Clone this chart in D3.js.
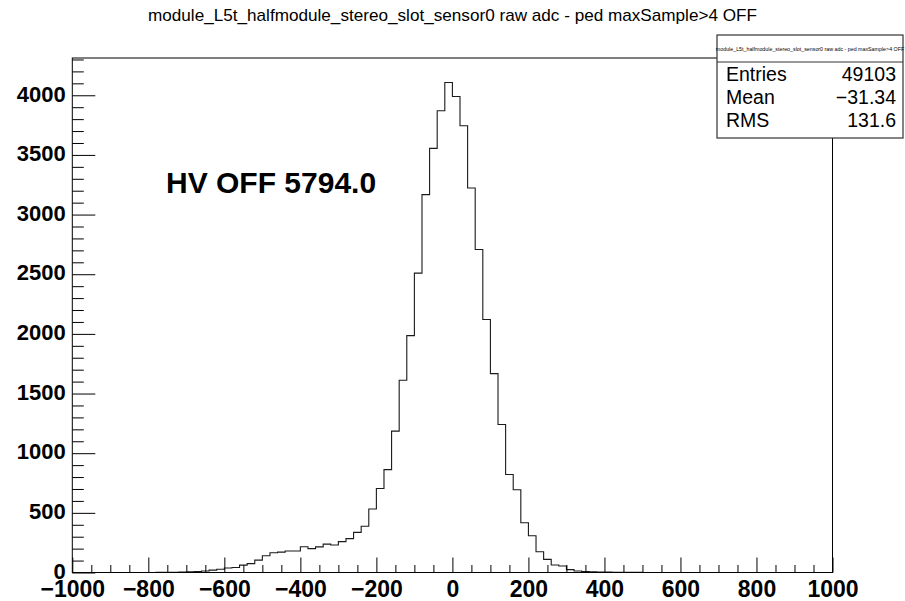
<!DOCTYPE html>
<html>
<head>
<meta charset="utf-8">
<script src="https://cdn.jsdelivr.net/npm/d3@7"></script>
<style>
  html, body { margin: 0; padding: 0; background: #fff; }
  svg { display: block; }
  text { font-family: "Liberation Sans", Arial, Helvetica, sans-serif; fill: #000; }
</style>
</head>
<body>
<svg id="chart" width="905" height="601"></svg>
<script>
// ---- data ----
const titleText = "module_L5t_halfmodule_stereo_slot_sensor0 raw adc - ped maxSample>4 OFF";
const annotation = "HV OFF 5794.0";
const binStart = -1000;
const binWidth = 20;
const counts = [
  0, 0, 0, 0, 0, 0, 0, 0, 0, 0,
  0, 1, 1, 2, 3, 5, 8, 13, 20, 27,
  38, 42, 62, 74, 104, 140, 165, 171, 180, 180,
  216, 200, 215, 238, 230, 259, 284, 336, 388, 532,
  704, 862, 1185, 1611, 1985, 2509, 3167, 3555, 3870, 4107,
  3990, 3745, 3223, 2707, 2121, 1667, 1240, 822, 693, 417,
  308, 174, 110, 63, 54, 24, 12, 9, 6, 4,
  3, 2, 1, 1, 1, 0, 0, 0, 0, 0,
  0, 0, 0, 0, 0, 0, 0, 0, 0, 0,
  0, 0, 0, 0, 0, 0, 0, 0, 0, 0
];
const xMajorTicks = [-1000, -800, -600, -400, -200, 0, 200, 400, 600, 800, 1000];
const xMinorTicks = [-950,-900,-850,-750,-700,-650,-550,-500,-450,-350,-300,-250,-150,-100,-50,50,100,150,250,300,350,450,500,550,650,700,750,850,900,950];
const yMajorTicks = [0, 500, 1000, 1500, 2000, 2500, 3000, 3500, 4000];
const yMinorTicks = [100,200,300,400,600,700,800,900,1100,1200,1300,1400,1600,1700,1800,1900,2100,2200,2300,2400,2600,2700,2800,2900,3100,3200,3300,3400,3600,3700,3800,3900,4100,4200,4300];
const statLabels = ["Entries", "Mean", "RMS"];
const statValues = ["49103", "\u221231.34", "131.6"];

// ---- layout ----
const svg = d3.select("#chart");
const L = 72.3, R = 832.5, T = 58, B = 572.5;
const xMax = binStart + binWidth * counts.length;
const x = d3.scaleLinear().domain([binStart, xMax]).range([L, R]);
const y = d3.scaleLinear().domain([0, d3.max(counts) * 1.05]).range([B, T]);

// title
svg.append("text")
  .attr("x", 452.5).attr("y", 21)
  .attr("text-anchor", "middle")
  .attr("font-size", 17)
  .attr("textLength", 609).attr("lengthAdjust", "spacingAndGlyphs")
  .text(titleText);

// histogram
const pts = [[x(binStart), y(0)]];
counts.forEach((c, i) => {
  const lo = binStart + i * binWidth, hi = lo + binWidth;
  pts.push([x(lo), y(c)], [x(hi), y(c)]);
});
pts.push([x(xMax), y(0)]);
svg.append("path")
  .attr("d", d3.line()(pts))
  .attr("fill", "none")
  .attr("stroke", "#1a1a1a")
  .attr("stroke-width", 1.1);

// axes
const fontAxis = 23;
const gx = svg.append("g").attr("transform", `translate(0,${B})`);
gx.call(d3.axisBottom(x).tickValues(xMinorTicks).tickSize(-7.5).tickFormat(""));
gx.call(g => g.select(".domain").remove());
const gx2 = svg.append("g").attr("transform", `translate(0,${B})`);
gx2.call(d3.axisBottom(x).tickValues(xMajorTicks).tickSize(-15).tickPadding(8.5).tickFormat(d3.format("d")));
gx2.select(".domain").remove();
gx2.selectAll("text").attr("font-size", fontAxis).attr("font-weight", "bold")
  .attr("font-family", "Liberation Sans, Arial, sans-serif");

const gy = svg.append("g").attr("transform", `translate(${L},0)`);
gy.call(d3.axisLeft(y).tickValues(yMinorTicks).tickSize(-11.5).tickFormat(""));
gy.select(".domain").remove();
const gy2 = svg.append("g").attr("transform", `translate(${L},0)`);
gy2.call(d3.axisLeft(y).tickValues(yMajorTicks).tickSize(-23).tickPadding(6.5).tickFormat(d3.format("d")));
gy2.select(".domain").remove();
gy2.selectAll("text").attr("font-size", 22).attr("font-weight", "bold")
  .attr("dy", "0.26em")
  .attr("font-family", "Liberation Sans, Arial, sans-serif");
svg.selectAll(".tick line").attr("stroke", "#000");

// frame
svg.append("rect")
  .attr("x", L).attr("y", T).attr("width", R - L).attr("height", B - T)
  .attr("fill", "none").attr("stroke", "#000").attr("stroke-width", 1);

// annotation
svg.append("text")
  .attr("x", 166).attr("y", 193)
  .attr("font-size", 30).attr("font-weight", "bold")
  .text(annotation);

// stats box
const bx = 717, by = 35, bw = 186, bh = 103, hdr = 27;
svg.append("rect")
  .attr("x", bx).attr("y", by).attr("width", bw).attr("height", bh)
  .attr("fill", "#fff").attr("stroke", "#333").attr("stroke-width", 1.2);
svg.append("line")
  .attr("x1", bx).attr("x2", bx + bw).attr("y1", by + hdr).attr("y2", by + hdr)
  .attr("stroke", "#333").attr("stroke-width", 1);
svg.append("text")
  .attr("x", bx + bw / 2).attr("y", by + 16)
  .attr("text-anchor", "middle").attr("font-size", 5.3)
  .text(titleText);
const rowY = [81, 104, 127];
statLabels.forEach((s, i) => {
  svg.append("text").attr("x", 726).attr("y", rowY[i]).attr("font-size", 19.5).text(s);
  svg.append("text").attr("x", 896).attr("y", rowY[i]).attr("font-size", 19.5)
    .attr("text-anchor", "end").text(statValues[i]);
});
</script>
</body>
</html>
